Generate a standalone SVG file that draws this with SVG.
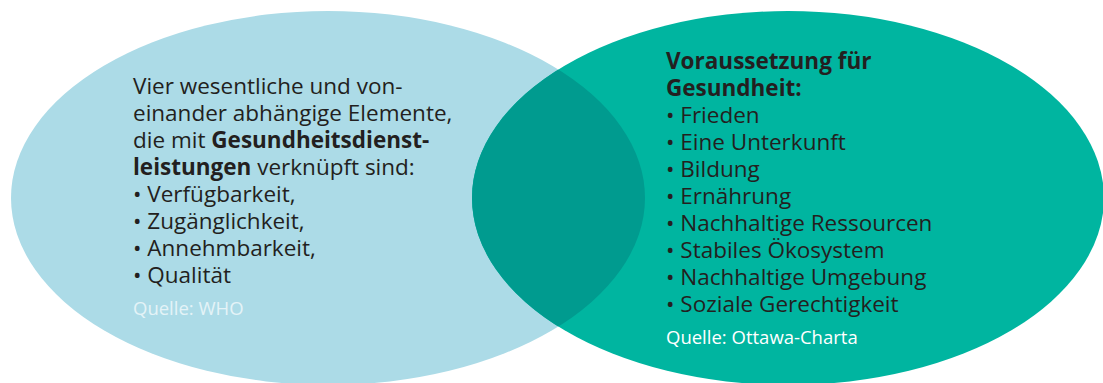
<svg xmlns="http://www.w3.org/2000/svg" width="1103" height="383" viewBox="0 0 1103 383">
<style>
.t{font-family:"Open Sans","Noto Sans","Liberation Sans",sans-serif;font-size:22.5px;fill:#231f20}
.b{font-weight:bold}
.q{font-family:"Open Sans","Noto Sans","Liberation Sans",sans-serif;font-size:18.5px}
</style>
<defs>
<clipPath id="clipL"><ellipse cx="328" cy="198" rx="317" ry="187"/></clipPath>
</defs>
<rect width="1103" height="383" fill="#ffffff"/>
<g id="left">
<ellipse cx="328" cy="198" rx="317" ry="187" fill="#acdbe7"/>
</g>
<g id="right">
<ellipse cx="788" cy="198" rx="316" ry="187" fill="#00b5a0"/>
</g>
<g id="overlap">
<ellipse cx="788" cy="198" rx="316" ry="187" fill="#009b8f" clip-path="url(#clipL)"/>
</g>
<g id="left-text">
<text class="t" x="133" y="94">Vier wesentliche und von-</text>
<text class="t" x="133" y="121">einander abhängige Elemente,</text>
<text class="t" x="133" y="148">die mit <tspan class="b">Gesundheitsdienst-</tspan></text>
<text class="t" x="133" y="175"><tspan class="b">leistungen</tspan> verknüpft sind:</text>
<text class="t" x="133" y="202">• Verfügbarkeit,</text>
<text class="t" x="133" y="229">• Zugänglichkeit,</text>
<text class="t" x="133" y="256">• Annehmbarkeit,</text>
<text class="t" x="133" y="283">• Qualität</text>
<text class="q" x="133" y="315" fill="#e4f3f7">Quelle: WHO</text>
</g>
<g id="right-text">
<text class="t b" x="666" y="69">Voraussetzung für</text>
<text class="t b" x="666" y="96">Gesundheit:</text>
<text class="t" x="666" y="123">• Frieden</text>
<text class="t" x="666" y="150">• Eine Unterkunft</text>
<text class="t" x="666" y="177">• Bildung</text>
<text class="t" x="666" y="204">• Ernährung</text>
<text class="t" x="666" y="231">• Nachhaltige Ressourcen</text>
<text class="t" x="666" y="258">• Stabiles Ökosystem</text>
<text class="t" x="666" y="285">• Nachhaltige Umgebung</text>
<text class="t" x="666" y="312">• Soziale Gerechtigkeit</text>
<text class="q" x="666" y="344" fill="#ffffff">Quelle: Ottawa-Charta</text>
</g>
</svg>
